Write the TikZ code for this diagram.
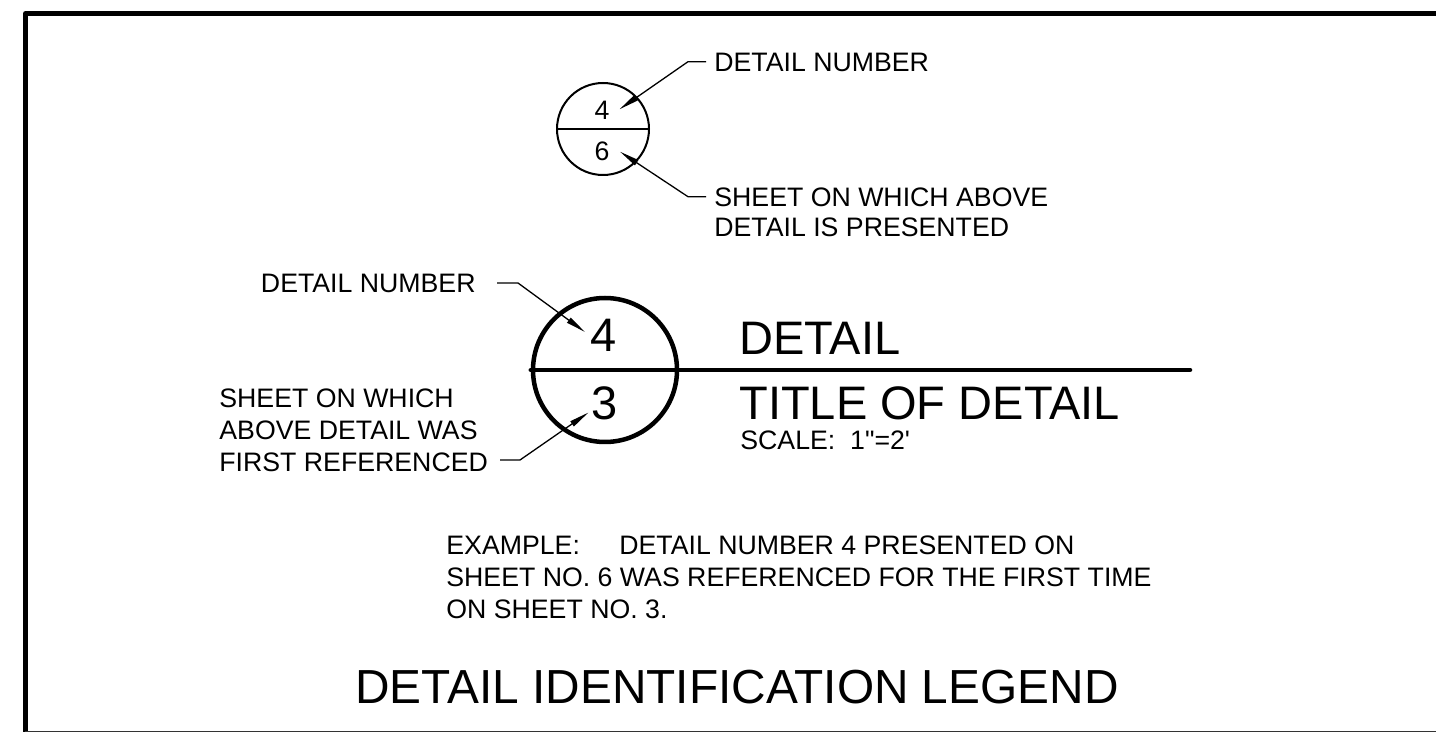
\documentclass[tikz,border=0pt]{standalone}
\usepackage{fontspec}
\newfontfamily\arial{Liberation Sans}
\usetikzlibrary{arrows.meta}
\tikzset{
  small/.style={font=\arial\fontsize{13.35}{13.35}\selectfont, inner sep=0pt},
  big/.style={font=\arial\fontsize{23.5}{23.5}\selectfont, inner sep=0pt},
  heading/.style={font=\arial\fontsize{23.9}{23.9}\selectfont, inner sep=0pt},
  leader/.style={line width=0.65pt, -{Triangle[length=10pt,width=3pt]}},
  frame/.style={line width=2.5pt, line join=round},
}
\begin{document}
\begin{tikzpicture}[x=0.5pt,y=-0.5pt]
\useasboundingbox (0,0) rectangle (1436,732);
% frame
\coordinate (fbl) at (25.5,733);
\coordinate (ftl) at (25.5,13.5);
\coordinate (ftr) at (1437,13.5);
\draw[frame] (fbl) -- (ftl) -- (ftr);
\coordinate (bl) at (25,731.5);
\coordinate (br) at (1436,731.5);
\draw[line width=0.6pt, black!80] (bl) -- (br);

% small circle
\node[circle, draw, line width=1pt, minimum size=46pt, inner sep=0pt] (sc) at (603,129) {};
\draw[line width=1pt] (sc.west) -- (sc.east);
\node[small, anchor=base] (s4) at (602,119.5) {4};
\node[small, anchor=base] (s6) at (602,161) {6};

% small circle leaders
\node[small, anchor=base west] (tdn) at (714,72) {DETAIL NUMBER};
\node[small, anchor=base west] (tsh) at (714,207) {SHEET ON WHICH ABOVE};
\node[small, anchor=base west] (tsh2) at (714,237) {DETAIL IS PRESENTED};
\coordinate (a1s) at (706,61.7);
\coordinate (a1b) at (688,61.7);
\coordinate (a1t) at (619.5,109.3);
\draw[leader] (a1s) -- (a1b) -- (a1t);
\coordinate (a2s) at (706,196.7);
\coordinate (a2b) at (688,196.7);
\coordinate (a2t) at (620,151.7);
\draw[leader] (a2s) -- (a2b) -- (a2t);

% big circle
\node[circle, draw, line width=2.25pt, minimum size=72pt, inner sep=0pt] (bc) at (605,370) {};
\coordinate (lineend) at (1190,370);
\draw[line width=2.25pt, line cap=round] (bc.west) -- (lineend);
\node[big, anchor=base] (b4) at (604,351.5) {4};
\node[big, anchor=base] (b3) at (604.5,420) {3};

\node[big, anchor=base west] (tdet) at (739,355) {DETAIL};
\node[big, anchor=base west] (ttitle) at (739,420) {TITLE OF DETAIL};
\node[small, anchor=base west] (tscale) at (740,450) {SCALE:\ \ 1"=2'};

% left leaders
\node[small, anchor=base east] (ldn) at (476,293) {DETAIL NUMBER};
\node[small, anchor=base west] (ls1) at (219,408) {SHEET ON WHICH};
\node[small, anchor=base west] (ls2) at (219,440) {ABOVE DETAIL WAS};
\node[small, anchor=base west] (ls3) at (219,471.5) {FIRST REFERENCED};
\coordinate (a3s) at (497,283);
\coordinate (a3b) at (518,283);
\coordinate (a3t) at (585,332);
\draw[leader] (a3s) -- (a3b) -- (a3t);
\coordinate (a4s) at (500,460);
\coordinate (a4b) at (520,460);
\coordinate (a4t) at (588.5,412.5);
\draw[leader] (a4s) -- (a4b) -- (a4t);

% example
\node[small, anchor=base west] (ex1) at (446,555) {\makebox[86.5pt][l]{EXAMPLE:}DETAIL NUMBER 4 PRESENTED ON};
\node[small, anchor=base west] (ex2) at (446,586.5) {SHEET NO. 6 WAS REFERENCED FOR THE FIRST TIME};
\node[small, anchor=base west] (ex3) at (446,618) {ON SHEET NO. 3.};

% title
\node[heading, anchor=base west] (title) at (355,703) {DETAIL IDENTIFICATION LEGEND};
\end{tikzpicture}
\end{document}
